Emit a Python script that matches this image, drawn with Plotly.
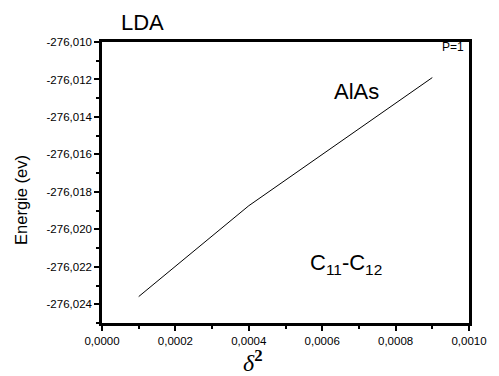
import plotly.graph_objects as go

delta2 = [0.0001, 0.0004, 0.0009]
energy = [-276.02359, -276.01874, -276.01190]

x_tickvals = [0.0, 0.0002, 0.0004, 0.0006, 0.0008, 0.0010]
x_ticktext = ["0,0000", "0,0002", "0,0004", "0,0006", "0,0008", "0,0010"]
y_tickvals = [-276.010, -276.012, -276.014, -276.016, -276.018, -276.020, -276.022, -276.024]
y_ticktext = ["-276,010", "-276,012", "-276,014", "-276,016", "-276,018", "-276,020", "-276,022", "-276,024"]

FONT = "Liberation Sans, Arial, sans-serif"

fig = go.Figure()
fig.add_trace(go.Scatter(x=delta2, y=energy, mode="lines",
                         line=dict(color="black", width=1), showlegend=False,
                         hoverinfo="skip"))

axis_common = dict(showgrid=False, zeroline=False, showline=True, linecolor="black",
                   linewidth=2.5, mirror=True, ticks="outside", ticklen=5, tickwidth=2,
                   tickcolor="black", tickfont=dict(family=FONT, size=11.5, color="black"))

fig.update_xaxes(range=[0, 0.001], tickvals=x_tickvals, ticktext=x_ticktext,
                 minor=dict(dtick=0.0001, ticks="outside", ticklen=3, tickwidth=2, tickcolor="black"),
                 **axis_common)
fig.update_yaxes(range=[-276.025, -276.010], tickvals=y_tickvals, ticktext=y_ticktext,
                 minor=dict(dtick=0.001, tick0=-276.025, ticks="outside", ticklen=3, tickwidth=2, tickcolor="black"),
                 **axis_common)

ann = [
    dict(text="LDA", x=144, y=22, size=22),
    dict(text="P=1", x=463, y=47, size=12),
    dict(text="AlAs", x=363, y=92, size=22),
    dict(text="C<sub>11</sub>-C<sub>12</sub>", x=353, y=264, size=22),
]
for a in ann:
    fig.add_annotation(text=a["text"], xref="paper", yref="paper",
                       x=(a["x"] - 102) / 377, y=1 - (a["y"] - 42) / 281.5,
                       xanchor="center", yanchor="middle", showarrow=False,
                       font=dict(family=FONT, size=a["size"], color="black"))

fig.add_annotation(text="Energie (ev)", xref="paper", yref="paper",
                   x=(18 - 102) / 377, y=1 - (200 - 42) / 281.5, textangle=-90,
                   xanchor="center", yanchor="middle", showarrow=False,
                   font=dict(family=FONT, size=16.5, color="black"))
fig.add_annotation(text="<i>δ</i><sup><b>2</b></sup>", xref="paper", yref="paper",
                   x=(257 - 102) / 377, y=1 - (362 - 42) / 281.5,
                   xanchor="center", yanchor="middle", showarrow=False,
                   font=dict(family="Liberation Serif, Times New Roman, serif", size=24, color="black"))

fig.update_layout(width=499, height=376, margin=dict(l=102, r=20, t=42, b=53),
                  paper_bgcolor="white", plot_bgcolor="white")

fig.write_html("out.html", config={"displayModeBar": False},
               post_script="document.body.style.margin='0';")
